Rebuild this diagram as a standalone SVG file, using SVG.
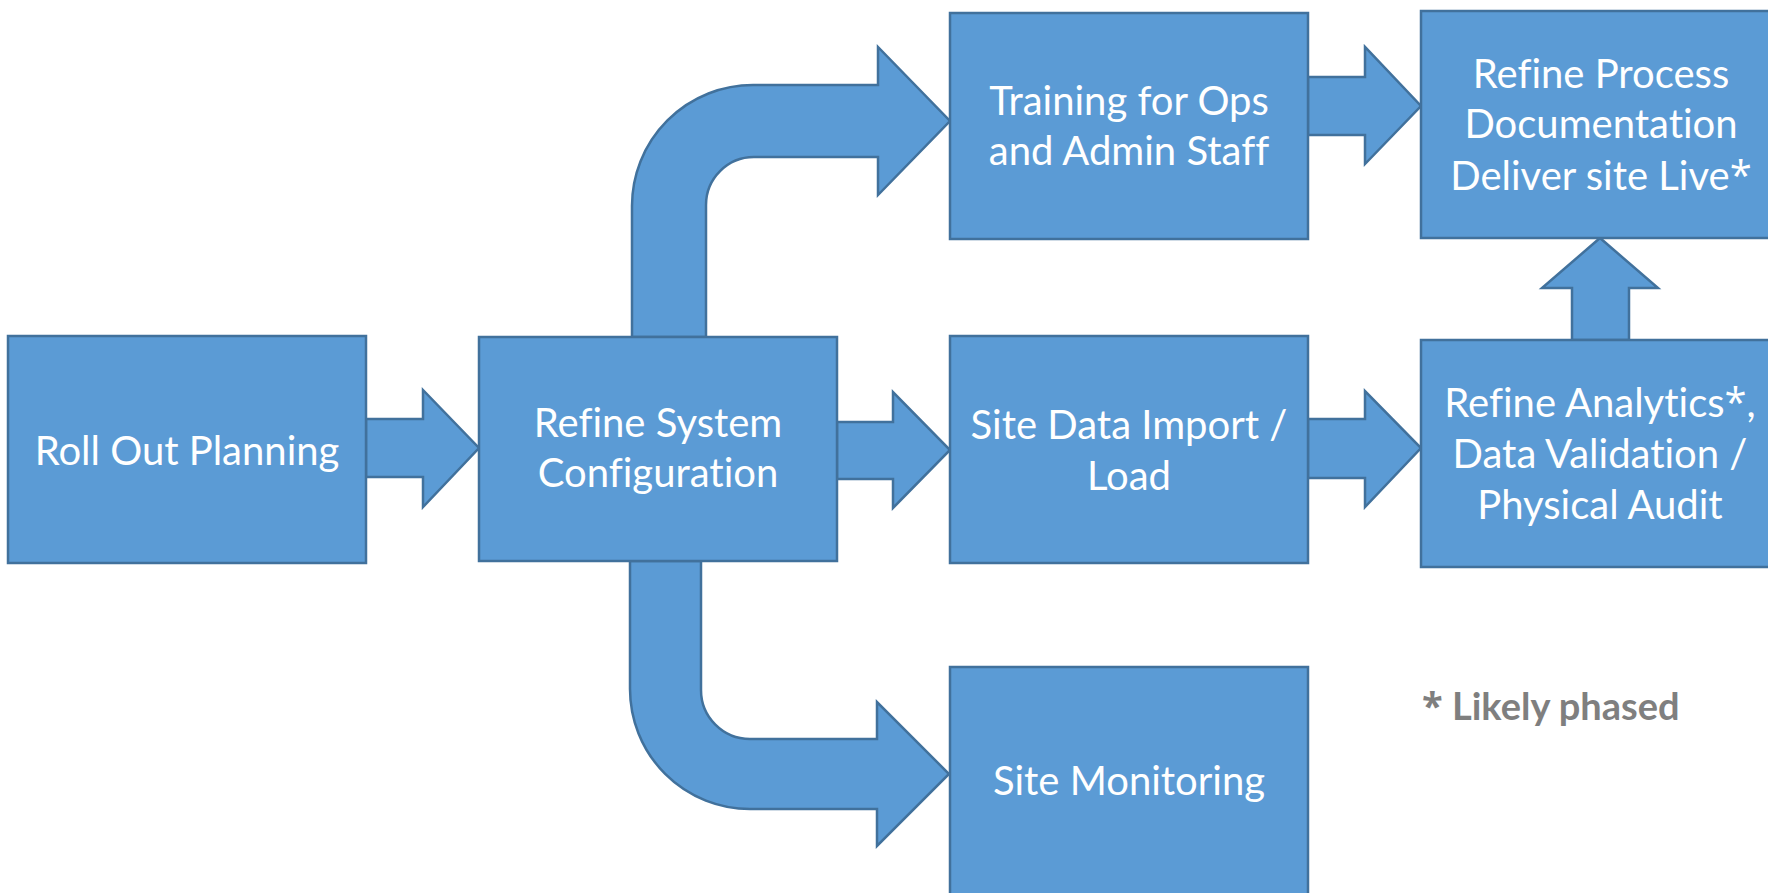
<svg xmlns="http://www.w3.org/2000/svg" width="1768" height="893" viewBox="0 0 1768 893">
<style>
.box{fill:#5B9BD5;stroke:#41719C;stroke-width:2.5}
.arr{fill:#5B9BD5;stroke:#41719C;stroke-width:2.5;stroke-linejoin:miter}
.t{fill:#FFFFFF;font-family:Lato,"Open Sans",sans-serif;font-size:40px;text-anchor:middle;font-variant-ligatures:none;font-feature-settings:"liga" 0,"dlig" 0}
.note{fill:#7F7F7F;font-family:Lato,"Open Sans",sans-serif;font-size:38px;font-weight:bold;font-variant-ligatures:none}
.ast{font-family:"Open Sans",sans-serif}
</style>
<rect width="1768" height="893" fill="#FFFFFF"/>
<g id="connectors">
<path class="arr" d="M366,419 H423 V390 L479,448 L423,507 V477 H366 Z"/>
<path class="arr" d="M837,422 H893 V392 L950,450 L893,508 V479 H837 Z"/>
<path class="arr" d="M1308,419 H1365 V391 L1421,448 L1365,507 V478 H1308 Z"/>
<path class="arr" d="M1308,77 H1365 V47 L1421,106 L1365,164 V135 H1308 Z"/>
<path class="arr" d="M1572,340 V288 H1542 L1600,238 L1658,288 H1629 V340 Z"/>
<path class="arr" d="M632,337 V206 A121,121 0 0 1 753,85 H878 V47 L950,121 L878,195 V157 H754 A48,48 0 0 0 706,205 V337 Z"/>
<path class="arr" d="M630,561 V689 A120,120 0 0 0 750,809 H877 V846 L949,774 L877,702 V739 H750 A49,49 0 0 1 701,690 V561 Z"/>
</g>
<g id="roll-out-planning">
<rect class="box" x="8" y="336" width="358" height="227"/>
<text class="t" x="187" y="465">Roll Out Planning</text>
</g>
<g id="refine-system-configuration">
<rect class="box" x="479" y="337" width="358" height="224"/>
<text class="t" x="658" y="437">Refine System</text>
<text class="t" x="658" y="487">Configuration</text>
</g>
<g id="training">
<rect class="box" x="950" y="13" width="358" height="226"/>
<text class="t" x="1129" y="115">Training for Ops</text>
<text class="t" x="1129" y="165">and Admin Staff</text>
</g>
<g id="site-data-import">
<rect class="box" x="950" y="336" width="358" height="227"/>
<text class="t" x="1129" y="439">Site Data Import /</text>
<text class="t" x="1129" y="490">Load</text>
</g>
<g id="site-monitoring">
<rect class="box" x="950" y="667" width="358" height="240"/>
<text class="t" x="1129" y="795">Site Monitoring</text>
</g>
<g id="refine-process">
<rect class="box" x="1421" y="11" width="370" height="227"/>
<text class="t" x="1601" y="88">Refine Process</text>
<text class="t" x="1601" y="138">Documentation</text>
<text class="t" x="1601" y="190">Deliver site Live<tspan class="ast">*</tspan></text>
</g>
<g id="refine-analytics">
<rect class="box" x="1421" y="340" width="370" height="227"/>
<text class="t" x="1600" y="417">Refine Analytics<tspan class="ast">*</tspan>,</text>
<text class="t" x="1600" y="468">Data Validation /</text>
<text class="t" x="1600" y="519">Physical Audit</text>
</g>
<g id="footnote">
<text class="note" x="1422" y="720"><tspan class="ast">*</tspan> Likely phased</text>
</g>
</svg>
